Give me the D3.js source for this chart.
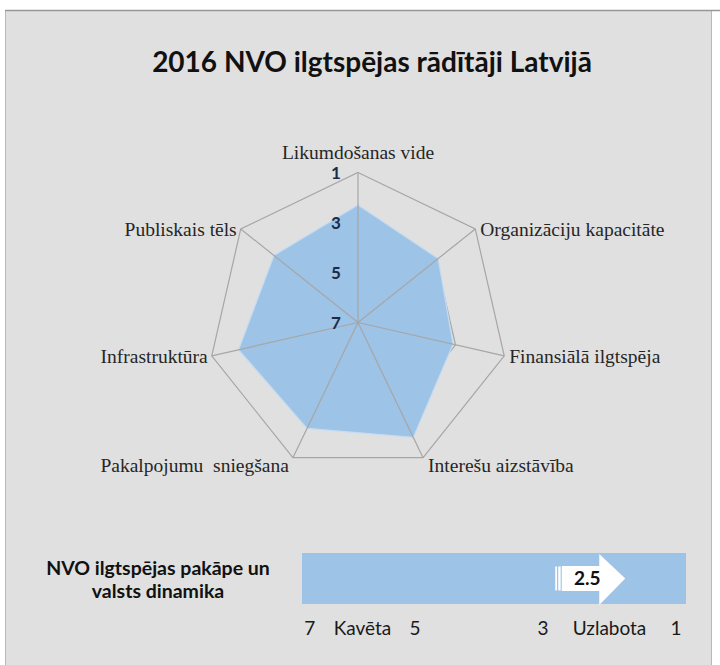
<!DOCTYPE html>
<html>
<head>
<meta charset="utf-8">
<script src="https://cdn.jsdelivr.net/npm/d3@7/dist/d3.min.js"></script>
<style>
  body { margin: 0; background: #fff; }
  #chart { width: 720px; height: 665px; }
</style>
</head>
<body>
<div id="chart"></div>
<script>
// data
const chartTitle = '2016 NVO ilgtspējas rādītāji Latvijā';
const dimensions = [
  'Likumdošanas vide',
  'Organizāciju kapacitāte',
  'Finansiālā ilgtspēja',
  'Interešu aizstāvība',
  'Pakalpojumu  sniegšana',
  'Infrastruktūra',
  'Publiskais tēls'
];
const scores = [2.3, 2.9, 3.1, 1.9, 2.3, 2.1, 2.7];
const radarTicks = [1, 3, 5, 7];
const overallScore = 2.5;
const overallLabel = ['NVO ilgtspējas pakāpe un', 'valsts dinamika'];
const scaleTicks = [7, 5, 3, 1];
const scaleWords = [{ value: 6, text: 'Kavēta' }, { value: 2, text: 'Uzlabota' }];

class SustainabilityChart {
  constructor(id) {
    this.id = id;
    this.width = 720;
    this.height = 665;
    this.fill = '#9dc3e6';
    this.gridColor = '#a6a6a6';
    this.sans = 'Lato, "Open Sans", sans-serif';
    this.serif = '"Liberation Serif", "DejaVu Serif", serif';
  }

  init() {
    this.svg = d3.select(`#${this.id}`).append('svg')
      .attr('width', this.width)
      .attr('height', this.height);
    this.drawPanel();
    this.drawRadar();
    this.drawScaleBar();
    return this;
  }

  drawPanel() {
    this.svg.append('rect')
      .attr('x', 5.5).attr('y', 10.5)
      .attr('width', 706).attr('height', 660)
      .attr('fill', '#e0e0e0')
      .attr('stroke', '#b8b8b8');
    this.svg.append('line')
      .attr('x1', 5).attr('x2', 720)
      .attr('y1', 10.5).attr('y2', 10.5)
      .attr('stroke', '#979797')
      .attr('stroke-width', 1.5);

    this.svg.append('text')
      .attr('x', 372).attr('y', 72)
      .attr('text-anchor', 'middle')
      .style('font-family', this.sans)
      .style('font-weight', 'bold')
      .style('font-size', '28px')
      .attr('fill', '#111')
      .text(chartTitle);
  }

  drawRadar() {
    const cx = 358, cy = 322.5, R = 150;
    const n = dimensions.length;
    const r = d3.scaleLinear().domain([7, 1]).range([0, R]);
    const angle = i => i * 2 * Math.PI / n;
    const pt = (i, v) => [cx + r(v) * Math.sin(angle(i)), cy - r(v) * Math.cos(angle(i))];
    const g = this.svg.append('g');

    // rings (under the fill)
    g.append('g').selectAll('polygon')
      .data(radarTicks.filter(t => t !== 7))
      .join('polygon')
      .attr('points', t => dimensions.map((d, i) => pt(i, t)).join(' '))
      .attr('fill', 'none')
      .attr('stroke', this.gridColor)
      .attr('stroke-width', 1.2);

    // series area
    g.append('polygon')
      .attr('points', scores.map((s, i) => pt(i, s)).join(' '))
      .attr('fill', this.fill)
      .attr('stroke', '#c4dbf1')
      .attr('stroke-width', 1.2);

    // spokes
    g.append('g').selectAll('line')
      .data(dimensions)
      .join('line')
      .attr('x1', cx).attr('y1', cy)
      .attr('x2', (d, i) => pt(i, 1)[0])
      .attr('y2', (d, i) => pt(i, 1)[1])
      .attr('stroke', this.gridColor)
      .attr('stroke-width', 1.2);

    // value ticks along the top spoke
    g.append('g').selectAll('text')
      .data(radarTicks)
      .join('text')
      .attr('x', cx - 22)
      .attr('y', t => cy - r(t))
      .attr('dy', '0.36em')
      .attr('text-anchor', 'middle')
      .style('font-family', this.sans)
      .style('font-weight', 'bold')
      .style('font-size', '17px')
      .attr('fill', '#1c2b4a')
      .text(d => d);

    // dimension labels
    g.append('g').selectAll('text')
      .data(dimensions)
      .join('text')
      .attr('x', (d, i) => {
        const s = Math.sin(angle(i));
        return pt(i, 1)[0] + (Math.abs(s) < 0.01 ? 0 : s > 0 ? 5 : -4);
      })
      .attr('y', (d, i) => {
        const c = Math.cos(angle(i));
        return pt(i, 1)[1] + (c > 0.99 ? -20 : c < -0.5 ? 8 : 0);
      })
      .attr('dy', '0.35em')
      .attr('text-anchor', (d, i) => {
        const s = Math.sin(angle(i));
        return Math.abs(s) < 0.01 ? 'middle' : s > 0 ? 'start' : 'end';
      })
      .style('white-space', 'pre')
      .style('font-family', this.serif)
      .style('font-size', '19.5px')
      .attr('fill', '#262626')
      .text(d => d);
  }

  drawScaleBar() {
    const x = d3.scaleLinear().domain([7.15, 5, 3, 0.85]).range([302, 415, 543, 686]);
    const top = 553, bottom = 604, mid = (top + bottom) / 2;
    const g = this.svg.append('g');

    g.append('rect')
      .attr('x', x(7.15)).attr('y', top)
      .attr('width', x(0.85) - x(7.15))
      .attr('height', bottom - top)
      .attr('fill', this.fill);

    // arrow marker at the overall score
    const ax = x(overallScore);
    const arrow = g.append('g').attr('fill', '#fff');
    arrow.append('rect').attr('x', ax - 21).attr('y', mid - 12).attr('width', 1.8).attr('height', 24);
    arrow.append('rect').attr('x', ax - 18).attr('y', mid - 12).attr('width', 2.4).attr('height', 24);
    arrow.append('rect').attr('x', ax - 14.5).attr('y', mid - 12.5).attr('width', 38).attr('height', 25);
    arrow.append('polygon')
      .attr('points', [[ax + 23, top + 1], [ax + 49, mid], [ax + 23, bottom + 1]].join(' '));
    g.append('text')
      .attr('x', ax + 11).attr('y', mid)
      .attr('dy', '0.36em')
      .attr('text-anchor', 'middle')
      .style('font-family', this.sans)
      .style('font-weight', 'bold')
      .style('font-size', '19px')
      .attr('fill', '#111')
      .text(overallScore.toFixed(1));

    // left caption
    g.append('g').selectAll('text')
      .data(overallLabel)
      .join('text')
      .attr('x', 158)
      .attr('y', (d, i) => 575 + i * 23)
      .attr('text-anchor', 'middle')
      .style('font-family', this.sans)
      .style('font-weight', 'bold')
      .style('font-size', '19.5px')
      .attr('fill', '#111')
      .text(d => d);

    // ticks and words below the bar
    const labels = scaleTicks.map(t => ({ value: t, text: String(t) })).concat(scaleWords);
    g.append('g').selectAll('text')
      .data(labels)
      .join('text')
      .attr('x', d => x(d.value))
      .attr('y', 635)
      .attr('text-anchor', 'middle')
      .style('font-family', this.sans)
      .style('font-size', '19px')
      .attr('fill', '#1a1a1a')
      .text(d => d.text);
  }
}

new SustainabilityChart('chart').init();
</script>
</body>
</html>
